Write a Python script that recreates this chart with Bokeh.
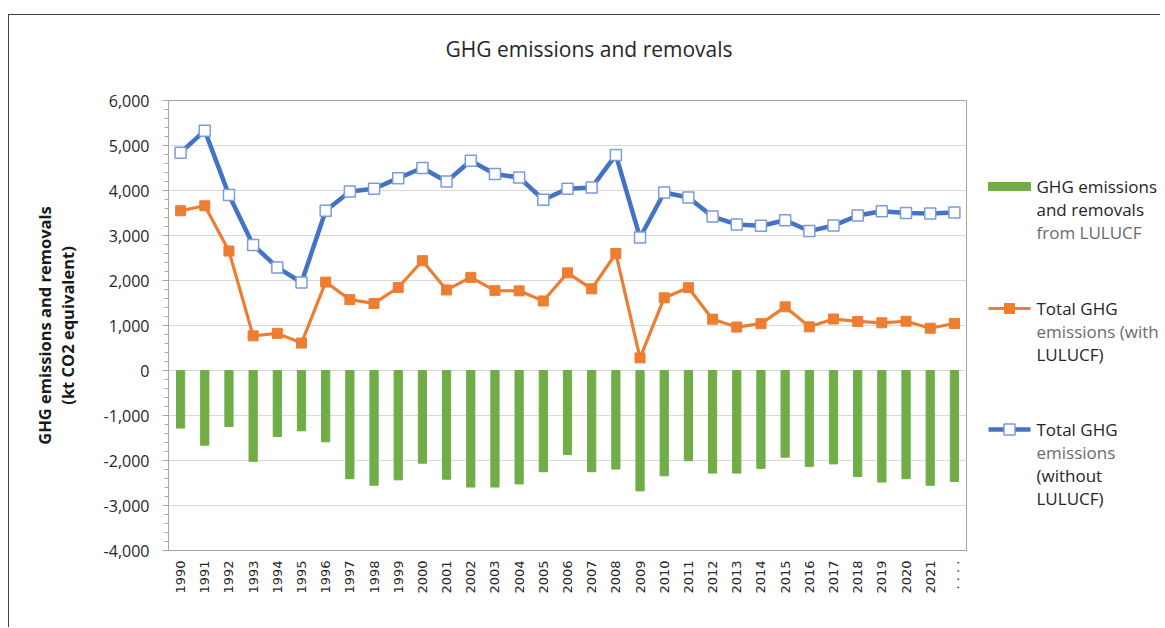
import math
from bokeh.plotting import figure
from bokeh.models import Range1d, FactorRange, NumeralTickFormatter, FixedTicker
from bokeh.layouts import row
from bokeh.embed import file_html
from bokeh.resources import INLINE
from bokeh.core.properties import value

# ---------------- data ----------------
categories = ["1990", "1991", "1992", "1993", "1994", "1995", "1996", "1997", "1998", "1999",
              "2000", "2001", "2002", "2003", "2004", "2005", "2006", "2007", "2008", "2009",
              "2010", "2011", "2012", "2013", "2014", "2015", "2016", "2017", "2018", "2019",
              "2020", "2021", ". . . ."]

lulucf = [-1280, -1660, -1245, -2020, -1465, -1340, -1585, -2405, -2550, -2430,
          -2060, -2415, -2590, -2590, -2520, -2250, -1870, -2250, -2190, -2675,
          -2340, -2005, -2280, -2280, -2175, -1925, -2130, -2075, -2355, -2480,
          -2405, -2550, -2465]

total_with = [3550, 3660, 2655, 770, 825, 610, 1965, 1575, 1490, 1845,
              2440, 1790, 2070, 1775, 1770, 1545, 2170, 1815, 2600, 280,
              1615, 1840, 1140, 965, 1040, 1415, 970, 1145, 1090, 1060,
              1095, 940, 1045]

total_without = [4840, 5330, 3900, 2790, 2290, 1955, 3550, 3980, 4040, 4275,
                 4500, 4200, 4660, 4365, 4290, 3795, 4040, 4065, 4790, 2955,
                 3955, 3845, 3420, 3245, 3215, 3340, 3100, 3220, 3445, 3540,
                 3500, 3490, 3510]

y_ticks = [-4000, -3000, -2000, -1000, 0, 1000, 2000, 3000, 4000, 5000, 6000]

title_text = "GHG emissions and removals"
y_title = "GHG emissions and removals\n(kt CO2 equivalent)"

GREEN = "#70AD47"
ORANGE = "#ED7D31"
BLUE = "#4472C4"
FONT = "Open Sans"

H = 612
TOP = 85
BOTTOM = 77

# ---------------- main chart ----------------
p = figure(x_range=FactorRange(*categories), y_range=Range1d(-4000, 6000),
           width=962, height=H, output_backend="svg", toolbar_location=None,
           min_border_left=159, min_border_right=5, min_border_top=TOP, min_border_bottom=BOTTOM)

p.title.text = title_text
p.title.align = "left"
p.title.offset = 277
p.title.standoff = 31
p.title.vertical_align = "top"
p.title.padding = (0, 0, 0, 20)
p.title.text_font = FONT
p.title.text_font_size = "21px"
p.title.text_font_style = "normal"
p.title.text_color = "#262626"

p.vbar(x=categories, top=lulucf, bottom=0, width=0.34, fill_color=GREEN, line_color=GREEN)
p.line(categories, total_with, line_color=ORANGE, line_width=3.2)
p.scatter(categories, total_with, marker="square", size=10, fill_color=ORANGE, line_color=ORANGE)
p.line(categories, total_without, line_color=BLUE, line_width=4.5)
p.scatter(categories, total_without, marker="square", size=11, fill_color="white",
          line_color="#7A9CDB", line_width=1.5)

p.outline_line_color = "#A6A6A6"
p.outline_line_width = 1
p.xgrid.visible = False
p.ygrid.grid_line_color = "#D9D9D9"
p.ygrid.grid_line_width = 1.2

p.yaxis.ticker = FixedTicker(ticks=y_ticks, minor_ticks=list(range(-4000, 6001, 200)))
p.yaxis.formatter = NumeralTickFormatter(format="0,0")
p.yaxis.major_tick_in = 0
p.yaxis.major_tick_out = 6
p.yaxis.minor_tick_in = 0
p.yaxis.minor_tick_out = 4
p.yaxis.axis_line_color = "#A6A6A6"
p.yaxis.major_tick_line_color = "#A6A6A6"
p.yaxis.minor_tick_line_color = "#A6A6A6"
p.yaxis.major_label_text_font = FONT
p.yaxis.major_label_text_font_size = "16px"
p.yaxis.major_label_text_color = "#262626"
p.yaxis.major_label_standoff = 13
p.yaxis.axis_label = y_title
p.yaxis.axis_label_text_font = FONT
p.yaxis.axis_label_text_font_size = "16.5px"
p.yaxis.axis_label_text_font_style = "bold"
p.yaxis.axis_label_text_line_height = 1.0
p.yaxis.axis_label_text_color = "#1a1a1a"
p.yaxis.axis_label_standoff = 22

p.xaxis.axis_line_color = "#A6A6A6"
p.xaxis.major_tick_in = 0
p.xaxis.major_tick_out = 0
p.xaxis.major_label_orientation = math.pi / 2
p.xaxis.major_label_standoff = 10
p.xaxis.major_label_text_font = "DejaVu Sans"
p.xaxis.major_label_text_font_size = "13px"
p.xaxis.major_label_text_color = "#262626"

# ---------------- legend panel ----------------
# y coordinates are pixels from the top of the panel; frame matches the main frame
lg = figure(width=189, height=H, x_range=Range1d(0, 189), y_range=Range1d(H - BOTTOM, TOP),
            output_backend="svg", toolbar_location=None,
            min_border_left=0, min_border_right=0, min_border_top=TOP, min_border_bottom=BOTTOM)
lg.axis.visible = False
lg.grid.visible = False
lg.outline_line_color = None

lg.quad(left=[17], right=[59], top=[167], bottom=[175], fill_color=GREEN, line_color=GREEN)
lg.line([17, 59], [293, 293], line_color=ORANGE, line_width=3.2)
lg.scatter([38], [293], marker="square", size=10, fill_color=ORANGE, line_color=ORANGE)
lg.line([17, 59], [414, 414], line_color=BLUE, line_width=4.5)
lg.scatter([38], [414], marker="square", size=11, fill_color="white", line_color="#7A9CDB", line_width=1.5)

DARK = "#262626"
GREY = "#6b6b6b"
leg_text = ["GHG emissions", "and removals", "from LULUCF",
            "Total GHG", "emissions  (with", "LULUCF)",
            "Total GHG", "emissions", "(without", "LULUCF)"]
leg_y = [171, 194, 217, 293, 316, 339, 414, 437, 460, 483]
leg_col = [DARK, DARK, GREY, DARK, GREY, DARK, DARK, GREY, DARK, DARK]
lg.text(x=[65] * len(leg_text), y=leg_y, text=leg_text, text_color=leg_col,
        text_font=value(FONT), text_font_size="17px", text_baseline="middle", text_align="left")

layout = row(p, lg)
layout.margin = (14, 0, 0, 8)
layout.styles = {"border-left": "1px solid #404040", "border-top": "1px solid #404040"}

open("out.html", "w").write(file_html(layout, INLINE))
